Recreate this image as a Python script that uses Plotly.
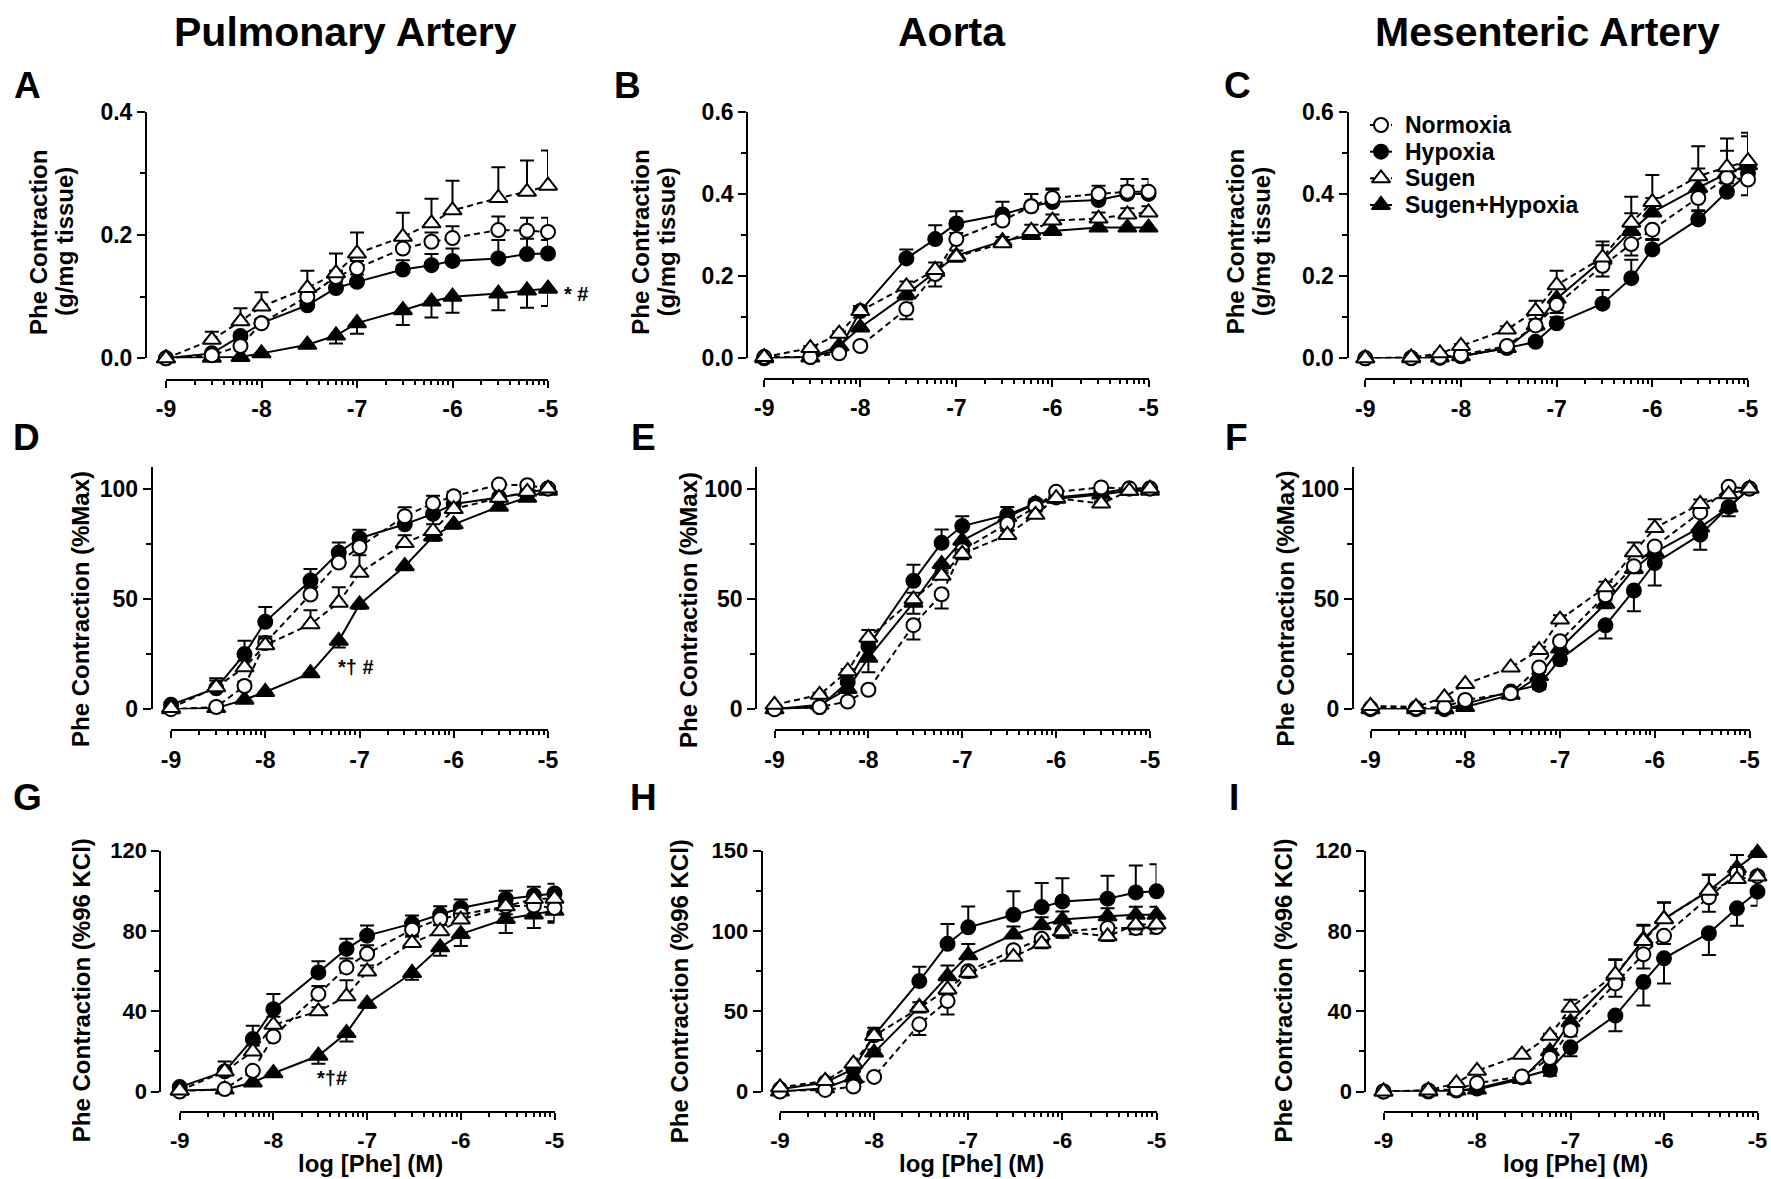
import math
import plotly.graph_objects as go

W, H = 1771, 1179
FONT = "Liberation Sans, Arial, sans-serif"

# log [Phe] (M) concentrations
X = [-9, -8.52, -8.22, -8, -7.52, -7.22, -7, -6.52, -6.22, -6, -5.52, -5.22, -5]
X_TICKS = [-9, -8, -7, -6, -5]
X_TICKTEXT = ["-9", "-8", "-7", "-6", "-5"]

SERIES = ["Normoxia", "Hypoxia", "Sugen", "Sugen+Hypoxia"]
COLUMN_TITLES = ["Pulmonary Artery", "Aorta", "Mesenteric Artery"]
PANEL_LETTERS = ["A", "B", "C", "D", "E", "F", "G", "H", "I"]

# ---- values (mean) and SEM (positive = drawn up, negative = drawn down) ----
# Panel A  (g/mg tissue)
A_N = [0, 0.005, 0.02, 0.057, 0.100, 0.132, 0.146, 0.178, 0.189, 0.195, 0.208, 0.207, 0.205]
A_N_err = [0, 0.003, 0.005, 0.006, 0.008, 0.010, 0.012, 0.015, 0.015, 0.019, 0.022, 0.021, 0.023]
A_H = [0, 0.008, 0.036, 0.057, 0.086, 0.114, 0.124, 0.144, 0.151, 0.158, 0.162, 0.169, 0.170]
A_H_err = [0, 0.004, 0.006, 0.006, 0.008, 0.010, 0.012, 0.015, 0.018, 0.020, 0.030, 0.025, 0.022]
A_S = [0, 0.030, 0.060, 0.084, 0.114, 0.138, 0.170, 0.197, 0.219, 0.240, 0.260, 0.270, 0.280]
A_S_err = [0, 0.013, 0.021, 0.023, 0.028, 0.032, 0.034, 0.039, 0.040, 0.048, 0.050, 0.051, 0.057]
A_SH = [0, 0.001, 0.002, 0.008, 0.022, 0.037, 0.057, 0.078, 0.092, 0.100, 0.105, 0.110, 0.113]
A_SH_err = [0, 0, 0, -0.002, -0.004, -0.013, -0.017, -0.024, -0.026, -0.026, -0.027, -0.028, -0.028]

# Panel B
B_N = [0.003, 0.003, 0.012, 0.030, 0.120, 0.205, 0.290, 0.335, 0.370, 0.390, 0.400, 0.405, 0.405]
B_N_err = [0, 0, 0.004, 0.006, -0.025, -0.030, 0.015, 0.020, 0.030, 0.023, 0.020, 0.031, 0.031]
B_H = [0, 0.003, 0.020, 0.115, 0.243, 0.290, 0.328, 0.350, 0.370, 0.380, 0.385, 0.400, 0.400]
B_H_err = [0, 0.003, 0.005, 0.012, 0.022, 0.034, 0.030, 0.031, 0.030, 0.030, 0.020, 0.020, 0.020]
B_S = [0.003, 0.025, 0.060, 0.115, 0.175, 0.215, 0.247, 0.280, 0.310, 0.335, 0.340, 0.350, 0.355]
B_S_err = [0, 0.005, 0.006, 0.012, 0.012, 0.018, 0.015, 0.015, 0.015, 0.015, 0.015, 0.015, 0.015]
B_SH = [0, 0.002, 0.030, 0.075, 0.155, 0.210, 0.250, 0.285, 0.300, 0.310, 0.318, 0.318, 0.318]
B_SH_err = [0, 0, -0.004, -0.008, -0.012, -0.015, -0.015, -0.012, -0.010, -0.010, -0.008, -0.008, -0.008]

# Panel C
C_N = [0, 0.001, 0.003, 0.008, 0.030, 0.080, 0.130, 0.225, 0.278, 0.313, 0.390, 0.440, 0.435]
C_N_err = [0, 0, 0, 0, -0.005, -0.012, -0.020, -0.026, -0.028, -0.025, -0.030, -0.030, -0.038]
C_H = [0, 0, 0.001, 0.005, 0.025, 0.040, 0.085, 0.133, 0.195, 0.265, 0.338, 0.405, 0.450]
C_H_err = [0, 0, 0, 0, 0.004, 0.008, 0.015, 0.033, 0.045, 0.025, 0.020, 0.020, 0.020]
C_S = [0, 0.002, 0.012, 0.030, 0.070, 0.115, 0.178, 0.245, 0.330, 0.380, 0.443, 0.465, 0.480]
C_S_err = [0, 0, 0.003, 0.005, 0.008, 0.025, 0.035, 0.039, 0.063, 0.066, 0.073, 0.070, 0.069]
C_SH = [0, 0, 0.002, 0.005, 0.025, 0.080, 0.145, 0.240, 0.310, 0.355, 0.415, 0.450, 0.470]
C_SH_err = [0, 0, 0, 0, 0.005, 0.015, 0.025, 0.035, 0.043, 0.035, 0.047, 0.055, 0.070]

# Panel D (% Max)
D_N = [0, 1, 10.5, 30, 52, 66.5, 73.5, 87.5, 93.3, 96.5, 101.8, 101.5, 100]
D_N_err = [0, 1, 2, 3, 3, 3, 3, 4, 3.4, 2, 1, 1, 0]
D_H = [2, 9.5, 25, 39.6, 58.3, 71, 77.5, 83.8, 88.5, 93, 96, 98, 100]
D_H_err = [0, 4.5, 6, 6.7, 5.3, 4.6, 3.8, 3, 4, 2, 1.5, 1, 0]
D_S = [0.5, 10, 19, 29, 38.5, 48.3, 61.8, 75.3, 80.8, 90.7, 95.8, 98.5, 100]
D_S_err = [0, 3, 3, 3, 6.3, 7, 8, 3.5, 3, 2, 1.5, 1, 0]
D_SH = [0, 0.5, 4.3, 7.8, 16.3, 31, 47.5, 64.8, 78.3, 83.8, 91.8, 95.8, 99]
D_SH_err = [0, 0, -0.5, -1, -1.5, -3, -2, -1.5, -2, -2, -1.5, -1, -0.5]

# Panel E
E_N = [0, 1, 3.5, 8.8, 38.1, 52.1, 72, 84, 91.6, 98.5, 100.5, 100, 100]
E_N_err = [0, 0, 0, 0, -6.5, -6.5, -4, -3, -2, -1, -1, 0, 0]
E_H = [0, 1, 12.2, 28.6, 58.2, 75.4, 83, 88.1, 93.2, 96, 98, 100, 100]
E_H_err = [0, 0, 1, 3, 7.3, 6, 4.5, 3.5, 2, 1, 1, 0, 0]
E_S = [2, 6.5, 17.2, 32.4, 49.8, 60.5, 70.4, 79, 88.1, 95.7, 93.2, 99, 100]
E_S_err = [0, 1, 1, 3.5, 3, 2.5, 2, 2, 2, 1, 1, 0, 0]
E_SH = [0, 2, 9.1, 23.3, 48.3, 65.8, 76.4, 87.1, 93, 95.4, 97.3, 99, 99]
E_SH_err = [0, 0, -1, -6.6, -5, -4, -6, -2, -1.5, -1, -1, 0, 0]

# Panel F
F_N = [0.5, 0.5, 1, 4.2, 7.2, 18.9, 30.8, 51.6, 64.8, 73.7, 89.2, 100.8, 100]
F_N_err = [0, 0, 0, 0, -1, -2, -3, -2, -2, -2, -1.5, -1, 0]
F_H = [0, 0, 0, 2.4, 8, 11, 22.6, 38, 53.8, 66.2, 79.1, 91.7, 100]
F_H_err = [0, 0, 0, 0, -1, -2, -2, -6, -9.4, -10.1, -6.8, -4.3, 0]
F_S = [1.5, 1, 5.4, 11.4, 18.9, 26.8, 40.6, 55.3, 71.1, 82.1, 93, 97.4, 100]
F_S_err = [0, 0, 0, 0, 0, 1.5, 2, 2.5, 4.5, 4, 2, 1, 0]
F_SH = [0, 0, 0, 1, 6.5, 15, 27.5, 47.8, 63.6, 71.1, 82.4, 91.4, 100]
F_SH_err = [0, 0, 0, 0, -0.5, -1, -1.5, -2, -2, -2, -1.5, -1, 0]

# Panel G (% 96 KCl)
G_N = [0, 1.2, 10.3, 27.4, 48.5, 61.8, 68.6, 80.6, 85.9, 88.1, 92.2, 92.6, 91.4]
G_N_err = [0, 0, 0, 0, 4, 4.4, 4.2, -3, -3, -3, -4, -5, -6.6]
G_H = [2.2, 10, 26.1, 41, 59.3, 71, 77.6, 83.6, 88.1, 91.4, 95.9, 97.6, 98.6]
G_H_err = [0, 5, 6.6, 7.5, 5.5, 5.1, 5, 4, 4.1, 4.2, 4, 4.3, 4.8]
G_S = [0.5, 10, 19.9, 33.2, 39.9, 47.4, 59.8, 74, 79.8, 85.6, 92.2, 95.9, 96]
G_S_err = [0, 1, 3, 4, 2, 8, 3, 3, 3, 3, 2, 2, 2]
G_SH = [0.5, 1, 4.5, 9.1, 17.8, 29.1, 43.7, 59, 71.8, 78.4, 85.9, 88.1, 90]
G_SH_err = [0, 0, -1, -1, -4, -4.2, -2, -3.3, -4.2, -6, -7, -6.7, -6]

# Panel H
H_N = [0, 1, 3.1, 9.1, 41.8, 56.3, 74.9, 87.9, 95, 99.7, 101.8, 101.8, 102.4]
H_N_err = [0, 0, 0, 0, -6.6, -8.3, -3, -3, -3, -4, -4, -4, -4]
H_H = [1.4, 5.6, 14, 35, 68.7, 91.9, 102.2, 110, 114.8, 118.3, 120, 123.9, 124.6]
H_H_err = [0, 1, 2, 4.7, 8.9, 12.4, 13, 14.6, 14.9, 14.5, 14.3, 16.8, 16.9]
H_S = [2.5, 6.6, 17.4, 34.6, 52.1, 63.5, 73.9, 83.8, 92.1, 99.7, 96.6, 103.9, 104]
H_S_err = [0, 0, 0, 0, -3, -3, -3, -2, -3, -3, -3, -3, -3]
H_SH = [0, 2, 8.7, 24.2, 52.6, 71.8, 84.8, 97.7, 103.5, 107, 109, 110, 110]
H_SH_err = [0, 0, 1, 2, 3, 6.6, 7, 5, 5, 5, 5, 5, 5]

# Panel I
I_N = [0, 0.5, 1, 4.2, 7.5, 16.7, 30.5, 53.8, 68.3, 77.5, 96.7, 108.7, 107.2]
I_N_err = [0, 0, 0, 0, 0, -1, -3, -6.6, -7.1, -4, -7.2, -4, -2]
I_H = [0, 0, 0.5, 1.5, 7, 10.8, 22, 37.8, 54.5, 66.3, 78.8, 91.2, 99.5]
I_H_err = [0, 0, 0, 0, -1, -3, -4.5, -7.8, -11.7, -12.5, -10.8, -8.7, -7]
I_S = [0, 0.5, 4.2, 10.3, 18.3, 27.8, 41.7, 58.3, 75, 85.8, 100, 105.8, 107]
I_S_err = [0, 0, 0, 0, 0, 1, 4, 7.5, 8, 8.4, 8, 6, 2]
I_SH = [0, 0, 0.5, 1, 6.2, 20, 34.5, 57.5, 75.8, 86, 100, 111.2, 118.8]
I_SH_err = [0, 0, 0, 0, 0, 1, 2, 8, 6.7, 8, 7.8, 6.6, 1]

PANEL_DATA = [
    ((A_N, A_N_err), (A_H, A_H_err), (A_S, A_S_err), (A_SH, A_SH_err)),
    ((B_N, B_N_err), (B_H, B_H_err), (B_S, B_S_err), (B_SH, B_SH_err)),
    ((C_N, C_N_err), (C_H, C_H_err), (C_S, C_S_err), (C_SH, C_SH_err)),
    ((D_N, D_N_err), (D_H, D_H_err), (D_S, D_S_err), (D_SH, D_SH_err)),
    ((E_N, E_N_err), (E_H, E_H_err), (E_S, E_S_err), (E_SH, E_SH_err)),
    ((F_N, F_N_err), (F_H, F_H_err), (F_S, F_S_err), (F_SH, F_SH_err)),
    ((G_N, G_N_err), (G_H, G_H_err), (G_S, G_S_err), (G_SH, G_SH_err)),
    ((H_N, H_N_err), (H_H, H_H_err), (H_S, H_S_err), (H_SH, H_SH_err)),
    ((I_N, I_N_err), (I_H, I_H_err), (I_S, I_S_err), (I_SH, I_SH_err)),
]

# y-axis scales
Y_RANGES = [[0, 0.4], [0, 0.6], [0, 0.6], [0, 110], [0, 110], [0, 110], [0, 120], [0, 150], [0, 120]]
Y_TICKS = [[0, 0.2, 0.4], [0, 0.2, 0.4, 0.6], [0, 0.2, 0.4, 0.6],
           [0, 50, 100], [0, 50, 100], [0, 50, 100],
           [0, 40, 80, 120], [0, 50, 100, 150], [0, 40, 80, 120]]
Y_MINOR = [[0.1, 0.3], [0.1, 0.3, 0.5], [0.1, 0.3, 0.5],
           [25, 75], [25, 75], [25, 75],
           [20, 60, 100], [25, 75, 125], [20, 60, 100]]
Y_TITLE_ROW1 = ["Phe Contraction", "(g/mg tissue)"]
Y_TITLES = [None] * 3 + ["Phe Contraction (%Max)"] * 3 + ["Phe Contraction (%96 KCl)"] * 3
X_TITLE = "log [Phe] (M)"

# ---- layout geometry (pixels) ----
# (y-axis line x, x(-9), x(-5), y(bottom), y(top), x-axis line y)
GEOM = [
    (146.0, 166.0, 548.0, 358.3, 111.7, 379.5),
    (747.2, 764.2, 1148.5, 358.3, 111.7, 378.8),
    (1347.5, 1365.3, 1748.0, 358.3, 111.7, 379.0),
    (151.7, 171.0, 548.0, 709.2, 466.5, 730.2),
    (756.1, 774.5, 1150.0, 709.2, 466.5, 730.2),
    (1353.0, 1370.5, 1749.5, 709.2, 466.5, 730.2),
    (160.3, 179.7, 554.5, 1091.5, 850.5, 1111.5),
    (761.7, 780.0, 1156.5, 1091.5, 850.5, 1111.5),
    (1365.3, 1383.5, 1757.5, 1091.5, 850.5, 1111.5),
]
TICK_FONT = [23, 23, 23, 23, 23, 23, 22, 22, 22]
YTITLE_ROW1_POS = [((38.9, 242), (65.0, 242)), ((640.7, 242), (666.6, 242)), ((1236.3, 242), (1262.2, 242))]
YTITLE_POS = [None, None, None, (80, 609), (688, 610), (1284.5, 609),
              (81.7, 990.5), (679.5, 991.7), (1282.6, 991)]
LETTER_POS = [(27.5, 85), (627, 85), (1237, 85), (26, 437), (643, 437), (1236, 437),
              (28, 797), (643.5, 797), (1233.5, 797)]
COLTITLE_POS = [(345.6, 31.6), (952, 31.6), (1547, 31.6)]
XTITLE_POS = [(370.5, 1163), (971, 1163), (1575, 1163)]
# legend block (pixels): symbol line start/end, marker centre, text start, row centres
LEG_LINE_X = (1370, 1392)
LEG_MARK_X = 1381
LEG_TEXT_X = 1403
LEG_ROWS_Y = [125, 151.7, 178.3, 205]

STYLES = {
    "Normoxia": dict(symbol="circle", fill="white", size=14, dash="6px,4px"),
    "Hypoxia": dict(symbol="circle", fill="black", size=14, dash="solid"),
    "Sugen": dict(symbol="triangle-up", fill="white", size=16, dash="6px,4px"),
    "Sugen+Hypoxia": dict(symbol="triangle-up", fill="black", size=16, dash="solid"),
}
DRAW_ORDER = [3, 1, 0, 2]  # SH, H, N, S (open symbols on top)

MINOR_X = [d + math.log10(k) for d in range(-9, -5) for k in range(2, 10)]


def px(x):
    return x / W


def py(y):
    return 1 - y / H


def bfont(size):
    return dict(family=FONT, size=size, color="black", weight="bold")


fig = go.Figure()
layout_axes = {}
for i in range(9):
    n = i + 1
    xname = "x" if n == 1 else f"x{n}"
    yname = "y" if n == 1 else f"y{n}"
    yax_x, x0, x1, yb, yt, xline = GEOM[i]
    for s_idx in DRAW_ORDER:
        name = SERIES[s_idx]
        vals, errs = PANEL_DATA[i][s_idx]
        st = STYLES[name]
        fig.add_trace(go.Scatter(
            x=X, y=vals, xaxis=xname, yaxis=yname, name=name,
            mode="lines+markers", cliponaxis=False, showlegend=False,
            line=dict(color="black", width=2, dash=st["dash"]),
            marker=dict(symbol=st["symbol"], size=st["size"], color=st["fill"],
                        line=dict(color="black", width=2)),
            error_y=dict(type="data", symmetric=False,
                         array=[max(e, 0) for e in errs],
                         arrayminus=[max(-e, 0) for e in errs],
                         color="black", thickness=2, width=7),
        ))
    xkey = "xaxis" if n == 1 else f"xaxis{n}"
    ykey = "yaxis" if n == 1 else f"yaxis{n}"
    layout_axes[xkey] = dict(
        domain=[px(x0), px(x1)], anchor="free", position=py(xline), automargin=False,
        range=[-9, -5], tickmode="array", tickvals=X_TICKS, ticktext=X_TICKTEXT,
        ticks="outside", ticklen=7, tickwidth=2, tickcolor="black",
        showline=True, linewidth=2, linecolor="black", showgrid=False, zeroline=False,
        tickfont=bfont(TICK_FONT[i]), ticklabelstandoff=2,
        minor=dict(tickmode="array", tickvals=MINOR_X, ticks="outside", ticklen=4,
                   tickwidth=2, tickcolor="black", showgrid=False),
    )
    rng = Y_RANGES[i]
    layout_axes[ykey] = dict(
        domain=[py(yb), py(yt)], anchor="free", position=px(yax_x), automargin=False,
        range=rng, tickmode="array", tickvals=Y_TICKS[i],
        tickformat=".1f" if rng[1] < 1 else "d",
        ticks="outside", ticklen=8, tickwidth=2, tickcolor="black",
        showline=True, linewidth=2, linecolor="black", showgrid=False, zeroline=False,
        tickfont=bfont(TICK_FONT[i]),
        minor=dict(tickmode="array", tickvals=Y_MINOR[i], ticks="outside", ticklen=5,
                   tickwidth=2, tickcolor="black", showgrid=False),
    )

# pixel-space overlay axis used only for the legend block
layout_axes["xaxis10"] = dict(domain=[0, 1], range=[0, W], visible=False, anchor="y10",
                              fixedrange=True, automargin=False)
layout_axes["yaxis10"] = dict(domain=[0, 1], range=[H, 0], visible=False, anchor="x10",
                              fixedrange=True, automargin=False)

annotations = []
for k, name in enumerate(SERIES):
    st = STYLES[name]
    ly = LEG_ROWS_Y[k]
    fig.add_trace(go.Scatter(
        x=list(LEG_LINE_X), y=[ly, ly], xaxis="x10", yaxis="y10", mode="lines",
        showlegend=False, hoverinfo="skip",
        line=dict(color="black", width=2, dash=("4px,3px" if st["dash"] != "solid" else "solid")),
    ))
    fig.add_trace(go.Scatter(
        x=[LEG_MARK_X], y=[ly], xaxis="x10", yaxis="y10", mode="markers",
        showlegend=False, hoverinfo="skip", cliponaxis=False,
        marker=dict(symbol=st["symbol"], size=st["size"], color=st["fill"],
                    line=dict(color="black", width=2)),
    ))
    annotations.append(dict(text=name, x=px(LEG_TEXT_X), y=py(ly), xref="paper", yref="paper",
                            xanchor="left", yanchor="middle", showarrow=False, font=bfont(23)))

for t, (cx, cy) in zip(COLUMN_TITLES, COLTITLE_POS):
    annotations.append(dict(text=t, x=px(cx), y=py(cy), xref="paper", yref="paper",
                            xanchor="center", yanchor="middle", showarrow=False, font=bfont(41)))
for t, (cx, cy) in zip(PANEL_LETTERS, LETTER_POS):
    annotations.append(dict(text=t, x=px(cx), y=py(cy), xref="paper", yref="paper",
                            xanchor="center", yanchor="middle", showarrow=False, font=bfont(37)))
for pos in YTITLE_ROW1_POS:
    for t, (cx, cy) in zip(Y_TITLE_ROW1, pos):
        annotations.append(dict(text=t, x=px(cx), y=py(cy), xref="paper", yref="paper",
                                xanchor="center", yanchor="middle", showarrow=False,
                                textangle=-90, font=bfont(24)))
for t, p in zip(Y_TITLES, YTITLE_POS):
    if t is None:
        continue
    annotations.append(dict(text=t, x=px(p[0]), y=py(p[1]), xref="paper", yref="paper",
                            xanchor="center", yanchor="middle", showarrow=False,
                            textangle=-90, font=bfont(24)))
for cx, cy in XTITLE_POS:
    annotations.append(dict(text=X_TITLE, x=px(cx), y=py(cy), xref="paper", yref="paper",
                            xanchor="center", yanchor="middle", showarrow=False, font=bfont(24)))

# significance markers
annotations.append(dict(text="* #", x=-5, y=A_SH[-1], xref="x", yref="y", xanchor="left",
                        yanchor="middle", xshift=14, yshift=-5, showarrow=False, font=bfont(20)))
annotations.append(dict(text="*† #", x=-7.04, y=19.3, xref="x4", yref="y4", xanchor="center",
                        yanchor="middle", showarrow=False, font=bfont(20)))
annotations.append(dict(text="*†#", x=-7.37, y=6.6, xref="x7", yref="y7", xanchor="center",
                        yanchor="middle", showarrow=False, font=bfont(20)))

fig.update_layout(template="none")
fig.update_layout(
    width=W, height=H, margin=dict(l=0, r=0, t=0, b=0, pad=0, autoexpand=False),
    paper_bgcolor="white", plot_bgcolor="rgba(0,0,0,0)",
    font=dict(family=FONT, color="black", weight="bold"),
    showlegend=False,
    annotations=annotations,
    **layout_axes,
)

# remove the browser's default 8px page margin so the figure fills the window exactly
fig.write_html("out.html", config={"displayModeBar": False},
               post_script="document.body.style.margin='0';document.body.style.overflow='hidden';")
